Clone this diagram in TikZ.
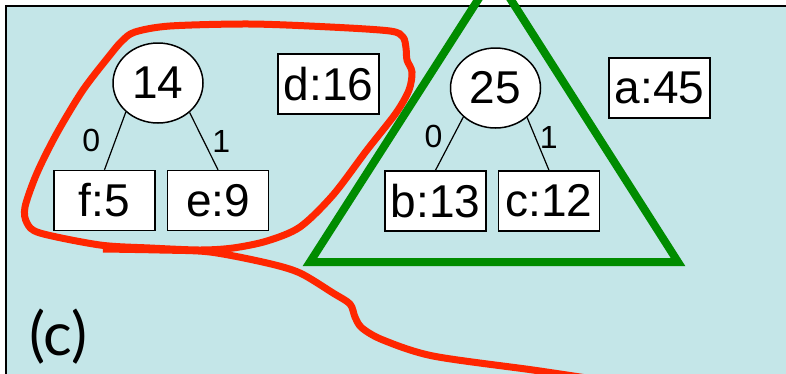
\documentclass[tikz,border=0pt]{standalone}
\usepackage{fontspec}
\setmainfont{Liberation Sans}
\newfontfamily\partfont{Lato}
\usetikzlibrary{shapes.geometric, positioning}

\definecolor{panelblue}{RGB}{196,230,232}
\definecolor{lassored}{RGB}{255,38,0}
\definecolor{treegreen}{RGB}{0,140,0}

\begin{document}
\begin{tikzpicture}[
            x = 1pt, y = -1pt, % pixel grid, y runs down
            node distance = 11pt, % gap between leaf boxes
            line width = 1.2pt % line style
        ]

        \tikzstyle{weight}=[
            ellipse,
            draw = black,
            line width = 1.5pt,
            fill = white,
            minimum width = 90pt,
            minimum height = 80pt,
            inner sep = 0pt,
            font = \fontsize{46}{50}\selectfont
        ]
        \tikzstyle{leaf}=[
            rectangle,
            draw = black,
            line width = 1.5pt,
            fill = white,
            minimum width = 101pt,
            minimum height = 60pt,
            inner sep = 0pt,
            font = \fontsize{46}{50}\selectfont
        ]
        \tikzstyle{bit}=[
            inner sep = 4pt,
            font = \fontsize{32}{36}\selectfont
        ]

        \useasboundingbox (0,0) rectangle (786,373);
        \clip (0,0) rectangle (786,373);
        \draw[fill = panelblue, line width = 2pt] (6,6) rectangle (830,430);

        % merged subtree 14
        \node[weight] (n14) at (158,83) {14};
        \node[leaf] (f) at (104.5,200.5) {f:5};
        \node[leaf] (e) [right=of f] {e:9};

        % merged subtree 25
        \node[weight] (n25) at (495.5,88) {25};
        \node[leaf] (b) at (435.5,201) {b:13};
        \node[leaf] (c) [right=of b] {c:12};

        % single leaves
        \node[leaf] (d) at (328.5,84) {d:16};
        \node[leaf] (a) at (659.5,88) {a:45};

        \node (part) at (58.5,337) {\partfont\fontsize{60}{64}\selectfont (c)};

        \path (n14.222) edge node[bit, left=10.5pt] {0} (f.north);
        \path (n14.317) edge node[bit, right=4pt] {1} (e.north);
        \path (n25.222) edge node[bit, pos=0.37, left=6pt] {0} (b.north);
        \path (n25.317) edge node[bit, pos=0.37, right] {1} (c.north);

        % lasso round the 14 tree
        \draw[lassored, line width = 7pt]
            plot[smooth cycle] coordinates {
                (200,250) (150,248) (100,245) (40,233) (27,223) (25,207)
                (37,173) (57,133) (83,90) (110,55) (122,41) (135,32)
                (170,26) (250,24) (330,27) (390,31) (403,37) (406,48)
                (407,60) (412,72) (409,90) (396,113) (367,150) (333,195)
                (300,227) (267,241) (233,248)
            };
        \draw[lassored, line width = 7pt]
            plot[smooth] coordinates {
                (103,249) (160,250) (210,252) (267,263) (300,273)
                (333,293) (350,304) (355,317) (362,328) (383,340)
                (433,356) (533,370) (600,380)
            };

        % triangle round the 25 tree
        \draw[treegreen, line width = 8pt]
            (310,262) -- (678,262) -- (494.5,-26) -- cycle;

  \end{tikzpicture}
\end{document}
